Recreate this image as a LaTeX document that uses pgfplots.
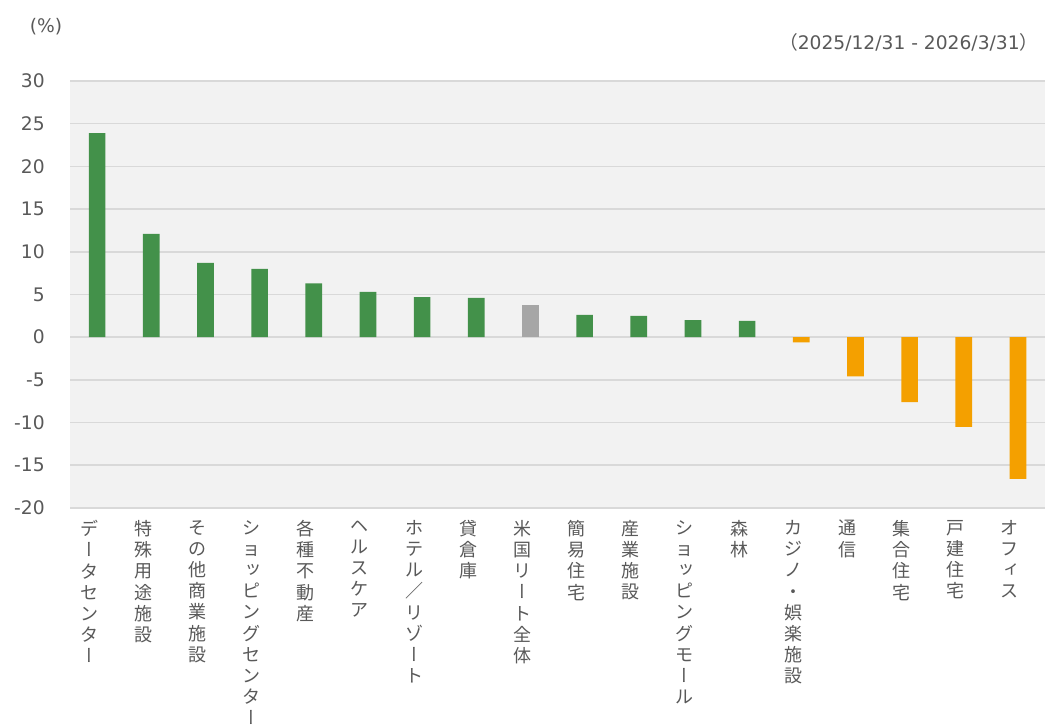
\documentclass[border=0pt]{standalone}
\usepackage{fontspec}
\setmainfont{DejaVu Sans}
\newfontfamily\cjk{Noto Sans CJK JP}
\newfontfamily\cjkv[RawFeature=+vert]{Noto Sans CJK JP}
\usepackage{pgfplots}
\pgfplotsset{compat=1.18}

\definecolor{grn}{HTML}{43914A}
\definecolor{org}{HTML}{F4A000}
\definecolor{gry}{HTML}{A6A6A6}
\definecolor{txt}{HTML}{595959}
\definecolor{bg}{HTML}{F2F2F2}
\definecolor{gridc}{HTML}{D9D9D9}

% vertical forms (long-vowel mark, small kana) for stacked labels
\newcommand\vb{{\cjkv ー}}
\newcommand\sk[1]{{\cjkv #1}}

\begin{document}
\begin{tikzpicture}
\path[use as bounding box] (0,0) rectangle (783.75pt,545.25pt);
\begin{axis}[
  at={(52.5pt,164.25pt)}, anchor=south west,
  scale only axis, width=731.25pt, height=320.25pt,
  xmin=-0.5, xmax=17.5, ymin=-20, ymax=30,
  axis background/.style={fill=bg},
  axis line style={draw=none},
  tick style={draw=none},
  major tick length=0pt,
  ymajorgrids,
  grid style={gridc, line width=1.2pt},
  ytick={-20,-15,-10,-5,0,5,10,15,20,25,30},
  yticklabels={-20,-15,-10,-5,0,5,10,15,20,25,30},
  yticklabel style={text=txt, font=\fontsize{14}{16}\selectfont, inner sep=0pt, xshift=-18.75pt},
  xtick={0,...,17},
  xticklabels={
    {デ\\\vb\\タ\\セ\\ン\\タ\\\vb},
    {特\\殊\\用\\途\\施\\設},
    {そ\\の\\他\\商\\業\\施\\設},
    {シ\\ョ\\\sk{ッ}\\ピ\\ン\\グ\\セ\\ン\\タ\\\vb},
    {各\\種\\不\\動\\産},
    {ヘ\\ル\\ス\\ケ\\ア},
    {ホ\\テ\\ル\\／\\リ\\ゾ\\\vb\\ト},
    {貸\\倉\\庫},
    {米\\国\\リ\\\vb\\ト\\全\\体},
    {簡\\易\\住\\宅},
    {産\\業\\施\\設},
    {シ\\ョ\\\sk{ッ}\\ピ\\ン\\グ\\モ\\\vb\\ル},
    {森\\林},
    {カ\\ジ\\ノ\\・\\娯\\楽\\施\\設},
    {通\\信},
    {集\\合\\住\\宅},
    {戸\\建\\住\\宅},
    {オ\\フ\\\sk{ィ}\\ス}
  },
  xticklabel style={text=txt, font=\cjk\fontsize{13.5}{15.9}\selectfont, align=center,
    anchor=north, inner sep=0pt, yshift=-9pt, xshift=-6pt},
  ybar, bar width=12.5pt,
  clip=false,
]
\addplot[fill=grn, draw=none, bar shift=0pt] coordinates {
  (0,23.9) (1,12.1) (2,8.7) (3,8.0) (4,6.3) (5,5.3) (6,4.7) (7,4.6)
  (9,2.6) (10,2.5) (11,2.0) (12,1.9)};
\addplot[fill=gry, draw=none, bar shift=0pt] coordinates {(8,3.8)};
\addplot[fill=org, draw=none, bar shift=0pt] coordinates {
  (13,-0.6) (14,-4.6) (15,-7.6) (16,-10.5) (17,-16.6)};
\end{axis}
\node[anchor=center, text=txt, font=\fontsize{14}{16}\selectfont, inner sep=0pt] at (34.5pt,525.5pt) {(\%)};
\node[anchor=east, text=txt, font=\fontsize{14}{16}\selectfont, inner sep=0pt] at (779pt,513.2pt) {{\cjk （}2025/12/31 - 2026/3/31{\cjk ）}};
\end{tikzpicture}
\end{document}
